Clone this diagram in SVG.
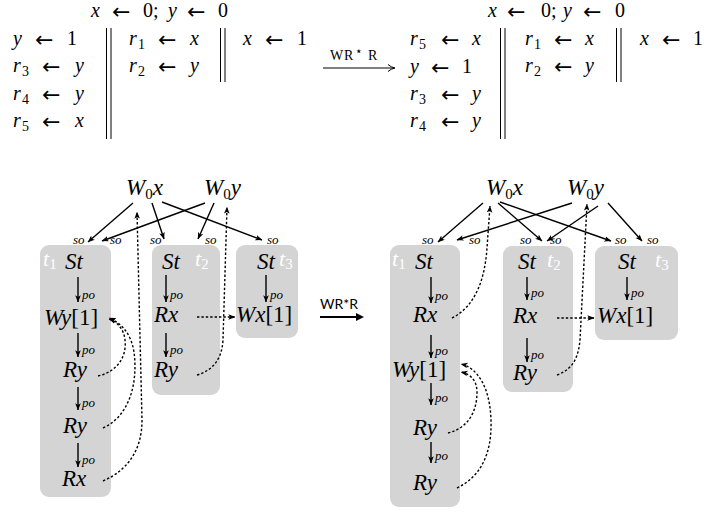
<svg xmlns="http://www.w3.org/2000/svg" width="704" height="512" viewBox="0 0 704 512">
<defs>
<style>
.m{font-family:"Liberation Serif",serif;font-size:20px;fill:#000}
.i{font-style:italic}
.u{font-style:normal}
.s{font-size:14px;font-style:normal}
.ar{font-family:"DejaVu Sans",sans-serif;font-size:22px;font-style:normal}
.n{font-family:"Liberation Serif",serif;font-size:23px;font-style:italic;fill:#000}
.lb{font-family:"Liberation Serif",serif;font-size:13px;font-style:italic;fill:#000}
.tl{font-family:"Liberation Serif",serif;font-size:22px;font-style:italic;fill:#fff}
.box{fill:#d4d4d4}
.e{fill:none;stroke:#000;stroke-width:1.4}
.d{fill:none;stroke:#000;stroke-width:1.4;stroke-dasharray:2.4 2}
.bar{stroke:#000;stroke-width:1}
</style>
<marker id="ah" viewBox="0 0 10 10" refX="9.5" refY="5" markerWidth="7" markerHeight="7" markerUnits="userSpaceOnUse" orient="auto">
<path d="M0,1 L10,5 L0,9 L2.5,5 Z" fill="#000"/>
</marker>
</defs>
<rect width="704" height="512" fill="#fff"/>

<!-- top-left program -->
<g id="prog-left">
<text class="m"><tspan class="i" x="91" y="17">x</tspan><tspan class="ar" x="112" y="19">←</tspan><tspan x="143" y="17">0;</tspan><tspan class="i" x="168" y="17">y</tspan><tspan class="ar" x="187" y="19">←</tspan><tspan x="218" y="17">0</tspan></text>
<text class="m"><tspan class="i" x="13" y="45">y</tspan><tspan class="ar" x="35" y="47">←</tspan><tspan x="67" y="45">1</tspan></text>
<text class="m"><tspan class="i" x="13" y="72">r</tspan><tspan class="s" x="22" y="76">3</tspan><tspan class="ar" x="42" y="74">←</tspan><tspan class="i" x="75" y="72">y</tspan></text>
<text class="m"><tspan class="i" x="13" y="100">r</tspan><tspan class="s" x="22" y="104">4</tspan><tspan class="ar" x="42" y="102">←</tspan><tspan class="i" x="75" y="100">y</tspan></text>
<text class="m"><tspan class="i" x="13" y="127">r</tspan><tspan class="s" x="22" y="131">5</tspan><tspan class="ar" x="42" y="129">←</tspan><tspan class="i" x="75" y="127">x</tspan></text>
<line class="bar" x1="106.5" y1="28" x2="106.5" y2="139"/>
<line class="bar" x1="111" y1="28" x2="111" y2="139"/>
<text class="m"><tspan class="i" x="129" y="45">r</tspan><tspan class="s" x="138" y="49">1</tspan><tspan class="ar" x="158" y="47">←</tspan><tspan class="i" x="190" y="45">x</tspan></text>
<text class="m"><tspan class="i" x="129" y="72">r</tspan><tspan class="s" x="138" y="76">2</tspan><tspan class="ar" x="158" y="74">←</tspan><tspan class="i" x="190" y="72">y</tspan></text>
<line class="bar" x1="220.5" y1="28" x2="220.5" y2="82"/>
<line class="bar" x1="225" y1="28" x2="225" y2="82"/>
<text class="m"><tspan class="i" x="243" y="45">x</tspan><tspan class="ar" x="265" y="47">←</tspan><tspan x="297" y="45">1</tspan></text>
</g>

<!-- transformation arrow top -->
<g id="top-arrow">
<text style="font-family:'Liberation Serif',serif;font-size:14px"><tspan x="330" y="60">W</tspan><tspan x="344" y="60">R</tspan><tspan x="355" y="55" style="font-family:'DejaVu Sans',sans-serif;font-size:12px">⋆</tspan><tspan x="368" y="60">R</tspan></text>
<line x1="323" y1="68" x2="394" y2="68" stroke="#000" stroke-width="1"/>
<path d="M388,64.5 Q391,67.3 395,68 Q391,68.7 388,71.5" fill="none" stroke="#000" stroke-width="1"/>
</g>

<!-- top-right program -->
<g id="prog-right">
<text class="m"><tspan class="i" x="488" y="17">x</tspan><tspan class="ar" x="507" y="19">←</tspan><tspan x="541" y="17">0;</tspan><tspan class="i" x="563" y="17">y</tspan><tspan class="ar" x="583" y="19">←</tspan><tspan x="615" y="17">0</tspan></text>
<text class="m"><tspan class="i" x="410" y="45">r</tspan><tspan class="s" x="419" y="49">5</tspan><tspan class="ar" x="441" y="47">←</tspan><tspan class="i" x="472" y="45">x</tspan></text>
<text class="m"><tspan class="i" x="410" y="73">y</tspan><tspan class="ar" x="431" y="75">←</tspan><tspan x="462" y="73">1</tspan></text>
<text class="m"><tspan class="i" x="410" y="100">r</tspan><tspan class="s" x="419" y="104">3</tspan><tspan class="ar" x="441" y="102">←</tspan><tspan class="i" x="472" y="100">y</tspan></text>
<text class="m"><tspan class="i" x="410" y="127">r</tspan><tspan class="s" x="419" y="131">4</tspan><tspan class="ar" x="441" y="129">←</tspan><tspan class="i" x="472" y="127">y</tspan></text>
<line class="bar" x1="500.5" y1="28" x2="500.5" y2="139"/>
<line class="bar" x1="505" y1="28" x2="505" y2="139"/>
<text class="m"><tspan class="i" x="525" y="45">r</tspan><tspan class="s" x="534" y="49">1</tspan><tspan class="ar" x="554" y="47">←</tspan><tspan class="i" x="585" y="45">x</tspan></text>
<text class="m"><tspan class="i" x="525" y="72">r</tspan><tspan class="s" x="534" y="76">2</tspan><tspan class="ar" x="554" y="74">←</tspan><tspan class="i" x="585" y="72">y</tspan></text>
<line class="bar" x1="616.5" y1="28" x2="616.5" y2="82"/>
<line class="bar" x1="621" y1="28" x2="621" y2="82"/>
<text class="m"><tspan class="i" x="640" y="45">x</tspan><tspan class="ar" x="662" y="47">←</tspan><tspan x="693" y="45">1</tspan></text>
</g>

<!-- ============ LEFT GRAPH ============ -->
<g id="L-t1">
<rect class="box" x="40" y="245" width="71" height="252" rx="9"/>
<text class="tl" x="43" y="266">t<tspan font-size="15" font-style="normal" dy="3">1</tspan></text>
</g>
<g id="L-t2">
<rect class="box" x="152" y="245" width="68" height="150" rx="9"/>
<text class="tl" x="195" y="266">t<tspan font-size="15" font-style="normal" dy="3">2</tspan></text>
</g>
<g id="L-t3">
<rect class="box" x="236" y="245" width="62" height="93" rx="9"/>
<text class="tl" x="279" y="266">t<tspan font-size="15" font-style="normal" dy="3">3</tspan></text>
</g>

<g id="L-W0x"><text class="n" x="126" y="195">W<tspan class="u" font-size="15" dy="4">0</tspan><tspan dy="-4">x</tspan></text></g>
<g id="L-W0y"><text class="n" x="204" y="195">W<tspan class="u" font-size="15" dy="4">0</tspan><tspan dy="-4">y</tspan></text></g>

<g id="L-t1-St"><text class="n" x="65" y="269">St</text></g>
<g id="L-t1-Wy1"><text class="n" x="44" y="325">Wy<tspan class="u">[1]</tspan></text></g>
<g id="L-t1-Ry1"><text class="n" x="63" y="377">Ry</text></g>
<g id="L-t1-Ry2"><text class="n" x="63" y="433">Ry</text></g>
<g id="L-t1-Rx"><text class="n" x="62" y="486">Rx</text></g>

<g id="L-t2-St"><text class="n" x="162" y="269">St</text></g>
<g id="L-t2-Rx"><text class="n" x="154" y="322">Rx</text></g>
<g id="L-t2-Ry"><text class="n" x="154" y="377">Ry</text></g>

<g id="L-t3-St"><text class="n" x="257" y="269">St</text></g>
<g id="L-t3-Wx1"><text class="n" x="236" y="322">Wx<tspan class="u">[1]</tspan></text></g>

<g id="L-edges">
<line class="e" x1="133" y1="203" x2="88" y2="242" marker-end="url(#ah)"/>
<line class="e" x1="205" y1="203" x2="102" y2="241" marker-end="url(#ah)"/>
<line class="e" x1="152" y1="203" x2="164" y2="239" marker-end="url(#ah)"/>
<line class="e" x1="214" y1="203" x2="198" y2="239" marker-end="url(#ah)"/>
<line class="e" x1="162" y1="202" x2="262" y2="240" marker-end="url(#ah)"/>
<text class="lb" x="73" y="244">so</text>
<text class="lb" x="110" y="244">so</text>
<text class="lb" x="150" y="244">so</text>
<text class="lb" x="205" y="244">so</text>
<text class="lb" x="267" y="244">so</text>

<line class="e" x1="78" y1="277" x2="78" y2="302" marker-end="url(#ah)"/>
<text class="lb" x="82" y="299">po</text>
<line class="e" x1="78" y1="333" x2="78" y2="357" marker-end="url(#ah)"/>
<text class="lb" x="82" y="354">po</text>
<line class="e" x1="78" y1="387" x2="78" y2="410" marker-end="url(#ah)"/>
<text class="lb" x="82" y="407">po</text>
<line class="e" x1="78" y1="443" x2="78" y2="467" marker-end="url(#ah)"/>
<text class="lb" x="82" y="464">po</text>

<line class="e" x1="166" y1="275" x2="166" y2="302" marker-end="url(#ah)"/>
<text class="lb" x="170" y="299">po</text>
<line class="e" x1="166" y1="333" x2="166" y2="357" marker-end="url(#ah)"/>
<text class="lb" x="170" y="354">po</text>
<line class="e" x1="266" y1="275" x2="266" y2="302" marker-end="url(#ah)"/>
<text class="lb" x="270" y="299">po</text>

<path class="d" d="M98,376 C116,372 127,358 125,340 C124,330 118,322 109,319" marker-end="url(#ah)"/>
<path class="d" d="M103,428 C130,416 138,382 134,352 C131,333 121,323 109,318" marker-end="url(#ah)"/>
<path class="d" d="M103,481 C128,470 142,450 142,420 L137,212" marker-end="url(#ah)"/>
<path class="d" d="M197,375 C214,370 222,358 223,340 L227,207" marker-end="url(#ah)"/>
<line class="d" x1="197" y1="317" x2="235" y2="317" marker-end="url(#ah)"/>
</g>

<!-- middle transformation arrow -->
<g id="mid-arrow">
<text x="320" y="309" style="font-family:Lato,'Liberation Sans',sans-serif;font-size:14px">WR*R</text>
<line x1="320" y1="317" x2="358" y2="317" stroke="#000" stroke-width="2"/>
<path d="M356,313 L364,317 L356,321 Z" fill="#000"/>
</g>

<!-- ============ RIGHT GRAPH ============ -->
<g id="R-t1">
<rect class="box" x="390" y="245" width="70" height="262" rx="9"/>
<text class="tl" x="392" y="266">t<tspan font-size="15" font-style="normal" dy="3">1</tspan></text>
</g>
<g id="R-t2">
<rect class="box" x="503" y="246" width="70" height="146" rx="9"/>
<text class="tl" x="547" y="267">t<tspan font-size="15" font-style="normal" dy="3">2</tspan></text>
</g>
<g id="R-t3">
<rect class="box" x="595" y="246" width="83" height="94" rx="9"/>
<text class="tl" x="655" y="267">t<tspan font-size="15" font-style="normal" dy="3">3</tspan></text>
</g>

<g id="R-W0x"><text class="n" x="486" y="195">W<tspan class="u" font-size="15" dy="4">0</tspan><tspan dy="-4">x</tspan></text></g>
<g id="R-W0y"><text class="n" x="567" y="195">W<tspan class="u" font-size="15" dy="4">0</tspan><tspan dy="-4">y</tspan></text></g>

<g id="R-t1-St"><text class="n" x="415" y="269">St</text></g>
<g id="R-t1-Rx"><text class="n" x="413" y="322">Rx</text></g>
<g id="R-t1-Wy1"><text class="n" x="392" y="377">Wy<tspan class="u">[1]</tspan></text></g>
<g id="R-t1-Ry1"><text class="n" x="413" y="435">Ry</text></g>
<g id="R-t1-Ry2"><text class="n" x="413" y="490">Ry</text></g>

<g id="R-t2-St"><text class="n" x="518" y="269">St</text></g>
<g id="R-t2-Rx"><text class="n" x="513" y="323">Rx</text></g>
<g id="R-t2-Ry"><text class="n" x="513" y="380">Ry</text></g>

<g id="R-t3-St"><text class="n" x="618" y="269">St</text></g>
<g id="R-t3-Wx1"><text class="n" x="597" y="323">Wx<tspan class="u">[1]</tspan></text></g>

<g id="R-edges">
<line class="e" x1="483" y1="203" x2="438" y2="242" marker-end="url(#ah)"/>
<line class="e" x1="572" y1="203" x2="457" y2="240" marker-end="url(#ah)"/>
<line class="e" x1="498" y1="203" x2="542" y2="241" marker-end="url(#ah)"/>
<line class="e" x1="598" y1="206" x2="547" y2="241" marker-end="url(#ah)"/>
<line class="e" x1="500" y1="202" x2="611" y2="241" marker-end="url(#ah)"/>
<line class="e" x1="608" y1="203" x2="642" y2="241" marker-end="url(#ah)"/>
<text class="lb" x="422" y="244">so</text>
<text class="lb" x="469" y="244">so</text>
<text class="lb" x="520" y="244">so</text>
<text class="lb" x="550" y="244">so</text>
<text class="lb" x="615" y="244">so</text>
<text class="lb" x="647" y="244">so</text>

<line class="e" x1="431" y1="277" x2="431" y2="303" marker-end="url(#ah)"/>
<text class="lb" x="435" y="300">po</text>
<line class="e" x1="431" y1="335" x2="431" y2="358" marker-end="url(#ah)"/>
<text class="lb" x="435" y="355">po</text>
<line class="e" x1="431" y1="383" x2="431" y2="405" marker-end="url(#ah)"/>
<text class="lb" x="435" y="402">po</text>
<line class="e" x1="431" y1="442" x2="431" y2="463" marker-end="url(#ah)"/>
<text class="lb" x="435" y="460">po</text>

<line class="e" x1="527" y1="277" x2="527" y2="300" marker-end="url(#ah)"/>
<text class="lb" x="531" y="297">po</text>
<line class="e" x1="527" y1="338" x2="527" y2="362" marker-end="url(#ah)"/>
<text class="lb" x="531" y="359">po</text>
<line class="e" x1="627" y1="277" x2="627" y2="300" marker-end="url(#ah)"/>
<text class="lb" x="631" y="297">po</text>

<path class="d" d="M452,318 C476,306 485,278 487,248 L490,206" marker-end="url(#ah)"/>
<path class="d" d="M448,433 C468,428 477,412 477,392 C477,380 470,374 461,372" marker-end="url(#ah)"/>
<path class="d" d="M457,488 C482,476 492,452 491,420 C490,388 478,368 461,364" marker-end="url(#ah)"/>
<line class="d" x1="557" y1="318" x2="594" y2="318" marker-end="url(#ah)"/>
<path class="d" d="M557,375 C570,370 578,362 580,340 L587,204" marker-end="url(#ah)"/>
</g>
</svg>
